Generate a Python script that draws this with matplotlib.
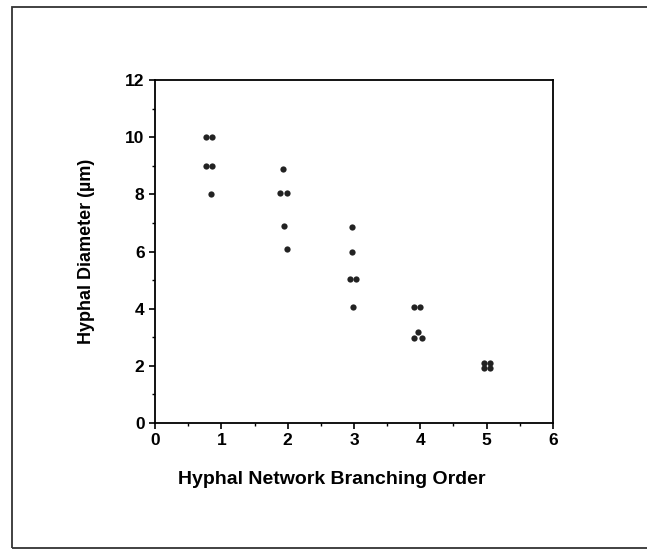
import matplotlib.pyplot as plt
from matplotlib.patches import Rectangle

# branching order vs hyphal diameter (um), one entry per measured hypha
order = [0.77, 0.86, 0.77, 0.86, 0.84,
         1.93, 1.89, 1.99, 1.95, 1.99,
         2.97, 2.97, 2.94, 3.03, 2.99,
         3.90, 3.99, 3.97, 3.91, 4.02,
         4.96, 5.05, 4.96, 5.05]
diameter = [10.0, 10.0, 9.0, 9.0, 8.0,
            8.9, 8.05, 8.05, 6.9, 6.1,
            6.85, 6.0, 5.05, 5.05, 4.05,
            4.05, 4.05, 3.2, 2.97, 2.97,
            2.1, 2.1, 1.92, 1.92]

xticks = [0, 1, 2, 3, 4, 5, 6]
yticks = [0, 2, 4, 6, 8, 10, 12]

plt.rcParams['font.family'] = ['Liberation Sans', 'DejaVu Sans']

fig = plt.figure(figsize=(6.47, 5.51), dpi=100)
ax = fig.add_axes([0.2396, 0.2323, 0.6151, 0.6225])

ax.plot(order, diameter, 'o', color='#222222', markersize=4.5, markeredgewidth=0)

ax.set_xlim(0, 6)
ax.set_ylim(0, 12)
ax.set_xticks(xticks)
ax.set_yticks(yticks)
ax.set_xticks([0.5, 1.5, 2.5, 3.5, 4.5, 5.5], minor=True)
ax.set_yticks([1, 3, 5, 7, 9, 11], minor=True)
ax.tick_params(which='major', direction='out', length=4, width=1.2, labelsize=12.5)
ax.tick_params(which='minor', direction='out', length=2, width=1)
for lab in ax.get_xticklabels() + ax.get_yticklabels():
    lab.set_fontweight('bold')
for s in ax.spines.values():
    s.set_linewidth(1.3)

ax.set_xlabel('Hyphal Network Branching Order', fontsize=14, fontweight='bold')
ax.xaxis.set_label_coords(0.445, -0.14)
ax.set_ylabel('Hyphal Diameter (\u00b5m)', fontsize=13, fontweight='bold')
ax.yaxis.set_label_coords(-0.152, 0.5)

# outer frame around the panel
fig.patches.append(Rectangle((12 / 647, 3 / 551), 640 / 647, 541 / 551,
                             transform=fig.transFigure, fill=False,
                             edgecolor='#333333', linewidth=1.3))

fig.savefig('out.png', dpi=100)
